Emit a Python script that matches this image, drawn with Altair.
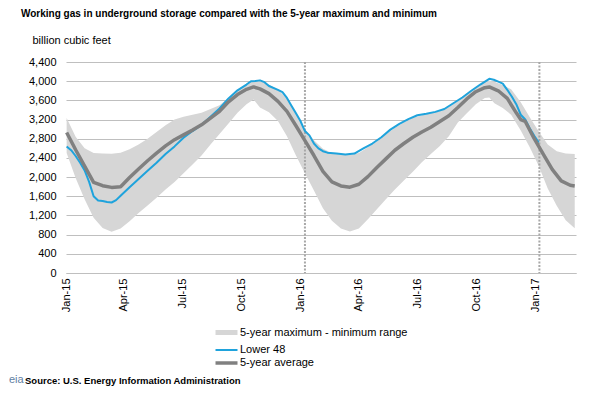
import altair as alt
import pandas as pd

TITLE = "Working gas in underground storage compared with the 5-year maximum and minimum"
UNIT = "billion cubic feet"
SOURCE = "Source:  U.S. Energy Information Administration"
RANGE = "5-year maximum - minimum range"
L48 = "Lower 48"
AVG = "5-year average"

band_dates = [
    "2015-01-02", "2015-01-16", "2015-01-30", "2015-02-13", "2015-02-27", "2015-03-13",
    "2015-03-27", "2015-04-10", "2015-04-24", "2015-05-08", "2015-05-22", "2015-06-05",
    "2015-06-19", "2015-07-03", "2015-07-17", "2015-07-31", "2015-08-14", "2015-08-28",
    "2015-09-11", "2015-09-25", "2015-10-09", "2015-10-20", "2015-10-30", "2015-11-13",
    "2015-11-27", "2015-12-11", "2015-12-25", "2016-01-08", "2016-01-22", "2016-02-05",
    "2016-02-19", "2016-03-04", "2016-03-18", "2016-04-01", "2016-04-15", "2016-04-29",
    "2016-05-13", "2016-05-27", "2016-06-10", "2016-06-24", "2016-07-08", "2016-07-22",
    "2016-08-05", "2016-08-19", "2016-09-02", "2016-09-16", "2016-09-30", "2016-10-14",
    "2016-10-21", "2016-10-29", "2016-11-11", "2016-11-24", "2016-12-09", "2016-12-23",
    "2017-01-06", "2017-01-20", "2017-02-03", "2017-02-17", "2017-03-03",
]
band_max = [
    3230, 2840, 2600, 2500, 2490, 2487,
    2510, 2580, 2680, 2800, 2940, 3080,
    3200, 3260, 3300, 3340, 3420, 3500,
    3650, 3820, 3940, 4010, 4020, 3930,
    3820, 3640, 3340, 3000, 2770, 2590,
    2500, 2470, 2465, 2500, 2620, 2740,
    2890, 3030, 3140, 3240, 3290, 3330,
    3380, 3460, 3590, 3740, 3880, 3980,
    4010, 3990, 3920, 3830, 3560, 3250,
    2950, 2680, 2540, 2490, 2480,
]
band_min = [
    2500, 1980, 1540, 1150, 940, 862,
    930, 1080, 1250, 1410, 1570, 1740,
    1900, 2080, 2260, 2450, 2680, 2900,
    3120, 3340, 3520, 3620, 3450, 3350,
    3170, 2850, 2450, 2080, 1720, 1350,
    1090, 930, 866, 930, 1120, 1330,
    1540, 1740, 1930, 2110, 2310, 2480,
    2650, 2850, 3140, 3330, 3520, 3650,
    3660, 3540, 3440, 3300, 2970, 2620,
    2230, 1760, 1400, 1100, 935,
]

l48_dates = [
    "2015-01-02", "2015-01-09", "2015-01-16", "2015-01-23", "2015-01-30", "2015-02-06",
    "2015-02-13", "2015-02-20", "2015-02-27", "2015-03-06", "2015-03-13", "2015-03-20",
    "2015-03-27", "2015-04-10", "2015-04-24", "2015-05-08", "2015-05-22", "2015-06-05",
    "2015-06-19", "2015-07-03", "2015-07-17", "2015-07-31", "2015-08-14", "2015-08-28",
    "2015-09-11", "2015-09-25", "2015-10-09", "2015-10-16", "2015-10-23", "2015-10-30",
    "2015-11-06", "2015-11-13", "2015-11-27", "2015-12-04", "2015-12-11", "2015-12-18",
    "2015-12-25", "2016-01-01", "2016-01-08", "2016-01-15", "2016-01-22", "2016-01-29",
    "2016-02-05", "2016-02-12", "2016-02-26", "2016-03-11", "2016-03-25", "2016-04-08",
    "2016-04-22", "2016-05-06", "2016-05-20", "2016-06-03", "2016-06-17", "2016-07-01",
    "2016-07-15", "2016-07-29", "2016-08-12", "2016-08-26", "2016-09-09", "2016-09-23",
    "2016-10-07", "2016-10-21", "2016-10-28", "2016-11-04", "2016-11-11", "2016-11-18",
    "2016-11-25", "2016-12-02", "2016-12-09", "2016-12-16", "2016-12-23", "2016-12-30",
    "2017-01-06",
]
l48_values = [
    2640, 2560, 2440, 2300, 2140, 1900,
    1600, 1510, 1500, 1480, 1470, 1520,
    1610, 1790, 1960, 2130, 2300, 2480,
    2640, 2820, 2960, 3090, 3260, 3430,
    3640, 3810, 3930, 4000, 4005, 4017,
    3980, 3900, 3820, 3770, 3650, 3490,
    3330, 3170, 2960, 2870, 2700, 2600,
    2540, 2510, 2490, 2470, 2490, 2600,
    2700, 2830, 2990, 3110, 3210, 3290,
    3320, 3360, 3420, 3540, 3660, 3800,
    3930, 4050, 4030, 3990, 3950, 3820,
    3680, 3520, 3300, 3200, 3020, 2860,
    2720,
]

avg_dates = [
    "2015-01-02", "2015-01-16", "2015-01-30", "2015-02-13", "2015-02-27", "2015-03-13",
    "2015-03-27", "2015-04-10", "2015-04-24", "2015-05-08", "2015-05-22", "2015-06-05",
    "2015-06-19", "2015-07-03", "2015-07-17", "2015-07-31", "2015-08-14", "2015-08-28",
    "2015-09-11", "2015-09-25", "2015-10-09", "2015-10-20", "2015-10-30", "2015-11-13",
    "2015-11-27", "2015-12-11", "2015-12-25", "2016-01-08", "2016-01-22", "2016-02-05",
    "2016-02-19", "2016-03-04", "2016-03-18", "2016-04-01", "2016-04-15", "2016-04-29",
    "2016-05-13", "2016-05-27", "2016-06-10", "2016-06-24", "2016-07-08", "2016-07-22",
    "2016-08-05", "2016-08-19", "2016-09-02", "2016-09-16", "2016-09-30", "2016-10-14",
    "2016-10-21", "2016-11-04", "2016-11-18", "2016-12-02", "2016-12-09", "2016-12-16",
    "2016-12-30", "2017-01-13", "2017-01-27", "2017-02-10", "2017-02-24", "2017-03-03",
]
avg_values = [
    2930, 2570, 2230, 1890, 1820, 1785,
    1800, 1990, 2170, 2340, 2500, 2650,
    2780, 2880, 2980, 3090, 3230, 3370,
    3570, 3720, 3830, 3880, 3840, 3740,
    3580, 3370, 3070, 2760, 2450, 2120,
    1900, 1815, 1790, 1850, 2010, 2200,
    2380, 2560, 2700, 2830, 2940, 3040,
    3160, 3280, 3450, 3630, 3780, 3865,
    3880, 3800, 3640, 3340, 3200, 3160,
    2800, 2480, 2160, 1920, 1830, 1815,
]

year_lines = ["2016-01-08", "2017-01-07"]
y_ticks = [0, 400, 800, 1200, 1600, 2000, 2400, 2800, 3200, 3600, 4000, 4400]
x_ticks = [(2015, 1), (2015, 4), (2015, 7), (2015, 10), (2016, 1), (2016, 4),
           (2016, 7), (2016, 10), (2017, 1)]

FONT = "Liberation Sans"

band_df = pd.DataFrame({"date": band_dates, "max": band_max, "min": band_min})
l48_df = pd.DataFrame({"date": l48_dates, "value": l48_values, "series": L48})
avg_df = pd.DataFrame({"date": avg_dates, "value": avg_values, "series": AVG})
rule_df = pd.DataFrame({"date": year_lines})

x_scale = alt.Scale(domain=[alt.DateTime(year=2015, month=1, date=1),
                            alt.DateTime(year=2017, month=3, date=5)])
y_scale = alt.Scale(domain=[0, 4400], nice=False, zero=True)

x_axis = alt.Axis(
    values=[alt.DateTime(year=y, month=m, date=1) for y, m in x_ticks],
    format="%b-%y", labelAngle=270, labelAlign="right", labelBaseline="middle",
    labelPadding=5, ticks=False, grid=False, domainColor="#bfbfbf",
    labelFont=FONT, labelFontSize=11, labelColor="#000000", title=None,
    labelOverlap=False,
)
y_axis = alt.Axis(
    values=y_ticks, format=",.0f", ticks=False, domain=False, grid=True,
    gridColor="#bfbfbf", labelPadding=10, labelFont=FONT, labelFontSize=11,
    labelColor="#000000", labelOverlap=False, title=UNIT, titleAngle=0,
    titleAlign="left", titleBaseline="middle", titleX=-34, titleY=-22,
    titleFont=FONT, titleFontSize=11, titleFontWeight="normal", titleColor="#000000",
)

color_scale = alt.Scale(domain=[RANGE, L48, AVG], range=["#d6d6d6", "#1fa3dc", "#808080"])
width_scale = alt.Scale(type="ordinal", domain=[RANGE, L48, AVG], range=[5, 2, 3.5])
legend = alt.Legend(
    title=None, orient="none", legendX=153, legendY=263,
    symbolType="M-2.2,0L2.2,0", symbolSize=100, labelFont=FONT, labelFontSize=11,
    labelColor="#000000", rowPadding=1, labelOffset=6, labelLimit=400,
)

band = alt.Chart(band_df).mark_area(color="#d6d6d6", opacity=1).encode(
    x=alt.X("date:T", scale=x_scale, axis=x_axis),
    y=alt.Y("min:Q", scale=y_scale, axis=y_axis),
    y2="max:Q",
)

rules = alt.Chart(rule_df).mark_rule(color="#a8a8a8", strokeDash=[2, 1.5], strokeWidth=2).encode(
    x=alt.X("date:T", scale=x_scale, axis=x_axis)
)

def line_layer(df):
    return alt.Chart(df).mark_line(strokeJoin="round").encode(
        x=alt.X("date:T", scale=x_scale, axis=x_axis),
        y=alt.Y("value:Q", scale=y_scale, axis=y_axis),
        color=alt.Color("series:N", scale=color_scale, legend=legend),
        strokeWidth=alt.StrokeWidth("series:N", scale=width_scale, legend=legend),
    )

source = alt.Chart(pd.DataFrame({"t": [SOURCE]})).mark_text(
    align="left", baseline="middle", font=FONT, fontSize=9.5, fontWeight="bold", color="#000000"
).encode(text="t:N", x=alt.value(-41), y=alt.value(319))

logo = alt.Chart(pd.DataFrame({"t": ["eia"]})).mark_text(
    align="left", baseline="middle", font=FONT, fontSize=11, color="#5f7fa3"
).encode(text="t:N", x=alt.value(-57), y=alt.value(318))

chart = alt.layer(band, rules, line_layer(l48_df), line_layer(avg_df), source, logo).properties(
    width=510, height=211,
    title=alt.TitleParams(TITLE, anchor="start", frame="group", dx=-45, offset=15,
                          font=FONT, fontSize=10, fontWeight="bold", color="#000000"),
    autosize=alt.AutoSizeParams(type="none"),
    padding={"left": 58, "top": 54, "right": 31, "bottom": 113},
).configure_view(stroke=None)

chart.save("out.html", embed_options={"renderer": "svg", "actions": False})
